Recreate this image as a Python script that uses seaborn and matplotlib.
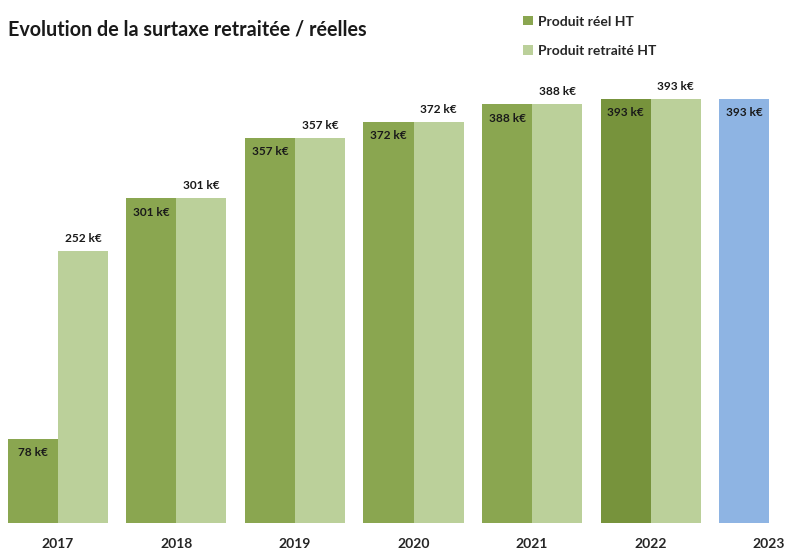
import numpy as np
import pandas as pd
import matplotlib
matplotlib.use("Agg")
import matplotlib.pyplot as plt
import seaborn as sns

years = ["2017", "2018", "2019", "2020", "2021", "2022", "2023"]
reel = [78, 301, 357, 372, 388, 393, 393]
retraite = [252, 301, 357, 372, 388, 393, np.nan]
series = ["Produit réel HT", "Produit retraité HT"]
title = "Evolution de la surtaxe retraitée / réelles"

c_dark = "#8AA650"
c_light = "#BBD09A"
c_dark22 = "#77933C"
c_blue = "#8EB4E3"

df = pd.DataFrame({
    "year": years * 2,
    "value": reel + retraite,
    "series": [series[0]] * len(years) + [series[1]] * len(years),
})

sns.set_style("white")
plt.rcParams["font.family"] = ["Lato", "DejaVu Sans"]

fig = plt.figure(figsize=(7.86, 5.53), dpi=100)
ax = fig.add_axes([0, 30 / 553, 1, 523 / 553])

sns.barplot(data=df, x="year", y="value", hue="series", order=years,
            hue_order=series, palette=[c_dark, c_light], width=0.844,
            gap=0, saturation=1, ax=ax, errorbar=None, legend=True,
            linewidth=0)

# special colours for 2022 (réel) and 2023
dark_bars = ax.containers[0]
light_bars = ax.containers[1]
dark_bars[5].set_facecolor(c_dark22)
dark_bars[6].set_facecolor(c_blue)

for i, bar in enumerate(dark_bars):
    v = reel[i]
    ax.annotate(f"{v:.0f} k€", (bar.get_x() + bar.get_width() / 2, v),
                xytext=(0, -10), textcoords="offset points", ha="center",
                va="center", fontsize=8.6, fontweight="bold", color="#1a1a1a")
for i, bar in enumerate(light_bars):
    v = retraite[i]
    if np.isnan(v):
        continue
    ax.annotate(f"{v:.0f} k€", (bar.get_x() + bar.get_width() / 2, v),
                xytext=(0, 9), textcoords="offset points", ha="center",
                va="center", fontsize=8.6, fontweight="bold", color="#1a1a1a")

ax.set_xlim(-0.489, 6.143)
ax.set_ylim(0, 484.7)
ax.set_xlabel("")
ax.set_ylabel("")
ax.set_yticks([])
for s in ax.spines.values():
    s.set_visible(False)
ax.tick_params(axis="x", length=0, pad=11, labelsize=10)
for t in ax.get_xticklabels():
    t.set_fontweight("bold")
ax.patch.set_alpha(0)

fig.text(8 / 786, 1 - 30 / 553, title, fontsize=14.2, fontweight="bold",
         ha="left", va="center", color="#1a1a1a")

handles, labels = ax.get_legend_handles_labels()
ax.legend(handles, labels, loc="upper left",
          bbox_to_anchor=(511 / 786, 1 - 3 / 553), bbox_transform=fig.transFigure,
          frameon=False, handlelength=0.65, handleheight=0.65, labelspacing=1.25,
          handletextpad=0.4, prop={"weight": "bold", "size": 10})

fig.savefig("out.png", dpi=100)
